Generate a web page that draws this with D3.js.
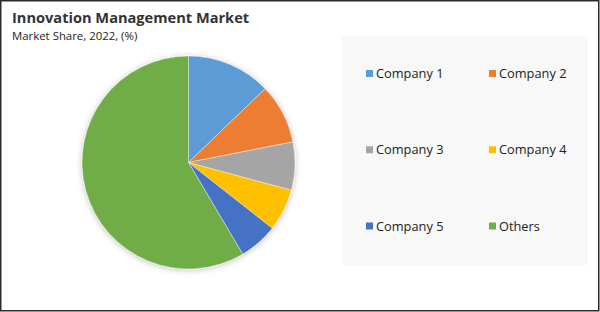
<!DOCTYPE html>
<html>
<head>
<meta charset="utf-8">
<script src="https://cdn.jsdelivr.net/npm/d3@7"></script>
<style>
    body { margin: 0; background: #fff; }
    svg text { font-family: "Open Sans", "Noto Sans", sans-serif; fill: #222; }
</style>
</head>
<body>
<div id="chart"></div>
<script>
const categories = ['Company 1', 'Company 2', 'Company 3', 'Company 4', 'Company 5', 'Others'];
const shares = [12.8, 9.1, 7.3, 6.4, 5.9, 58.5];
const colors = ['#5b9bd5', '#ed7d31', '#a5a5a5', '#ffc000', '#4472c4', '#70ad47'];

const W = 600, H = 312;
const svg = d3.select('#chart').append('svg')
    .attr('width', W)
    .attr('height', H);

// soft shadow behind the pie
const defs = svg.append('defs');
const f = defs.append('filter')
    .attr('id', 'shadow')
    .attr('x', '-20%').attr('y', '-20%')
    .attr('width', '140%').attr('height', '140%');
f.append('feGaussianBlur').attr('in', 'SourceAlpha').attr('stdDeviation', 3).attr('result', 'b');
f.append('feOffset').attr('in', 'b').attr('dx', 0).attr('dy', 1).attr('result', 'o');
f.append('feComponentTransfer').attr('in', 'o').attr('result', 's')
    .append('feFuncA').attr('type', 'linear').attr('slope', 0.25);
const m = f.append('feMerge');
m.append('feMergeNode').attr('in', 's');
m.append('feMergeNode').attr('in', 'SourceGraphic');

svg.append('rect')
    .attr('x', 0.75).attr('y', 0.75)
    .attr('width', W - 2).attr('height', H - 2)
    .style('fill', 'white')
    .style('stroke', '#2a2a2a')
    .style('stroke-width', 1.5);

svg.append('text')
    .attr('x', 12).attr('y', 23)
    .style('font-size', '14.6px')
    .style('font-weight', 'bold')
    .style('fill', '#333')
    .text('Innovation Management Market');

svg.append('text')
    .attr('x', 12).attr('y', 40)
    .style('font-size', '11.4px')
    .text('Market Share, 2022, (%)');

// pie
const cx = 188.5, cy = 162.5, r = 106.5;
const pie = d3.pie().sort(null).value(d => d);
const arc = d3.arc().innerRadius(0).outerRadius(r);

const g = svg.append('g')
    .attr('transform', 'translate(' + cx + ', ' + cy + ')')
    .attr('filter', 'url(#shadow)');

g.selectAll('path')
    .data(pie(shares))
    .enter()
    .append('path')
        .attr('d', arc)
        .style('fill', (d, i) => colors[i])
        .style('stroke', 'white')
        .style('stroke-width', 0.4);

// legend
svg.append('rect')
    .attr('x', 342).attr('y', 36)
    .attr('width', 246).attr('height', 229)
    .style('fill', '#f8f8f8');

const colX = d3.scalePoint().domain([0, 1]).range([366, 489]);
const rowY = d3.scalePoint().domain([0, 1, 2]).range([73.5, 226]);

const item = svg.selectAll('g.legend')
    .data(categories)
    .enter()
    .append('g')
        .attr('class', 'legend')
        .attr('transform', (d, i) => 'translate(' + colX(i % 2) + ', ' + rowY(Math.floor(i / 2)) + ')');

item.append('rect')
    .attr('x', 0).attr('y', -3.5)
    .attr('width', 7).attr('height', 7)
    .style('fill', (d, i) => colors[i]);

item.append('text')
    .attr('x', 10).attr('y', 4.5)
    .style('font-size', '12.8px')
    .text(d => d);
</script>
</body>
</html>
